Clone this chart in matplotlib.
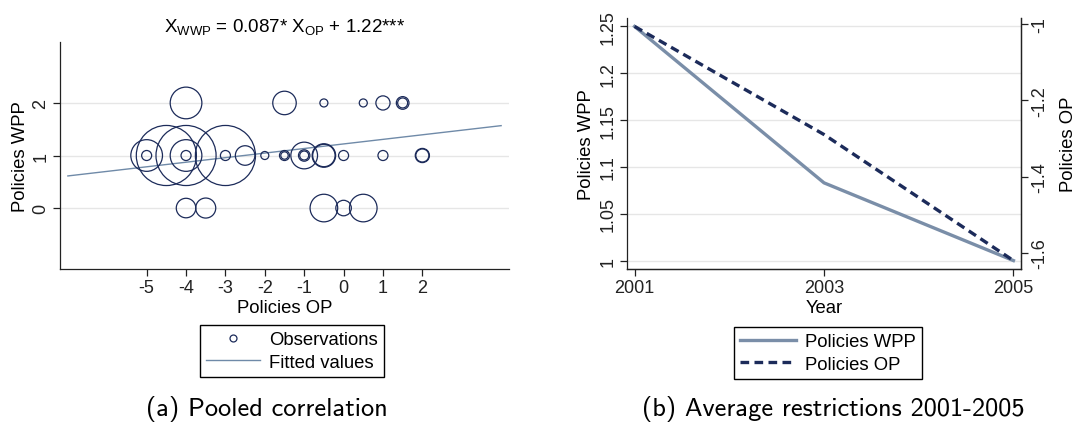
import matplotlib
matplotlib.use("Agg")
import matplotlib.pyplot as plt
from matplotlib.lines import Line2D
import numpy as np

plt.rcParams['font.family'] = ['Liberation Sans', 'DejaVu Sans']

# (a) pooled observations: OP policy score, WPP policy score, weight
obs_op = [-4, -1.5, -0.5, 0.5, 1, 1.5, 1.5,
          -5, -5, -4.5, -4, -4, -4, -3, -3, -2.5, -2, -1.5, -1.5,
          -1, -1, -1, -0.5, -0.5, 0, 1, 2, 2,
          -4, -3.5, -0.5, 0, 0.5]
obs_wpp = [2, 2, 2, 2, 2, 2, 2,
           1, 1, 1, 1, 1, 1, 1, 1, 1, 1, 1, 1,
           1, 1, 1, 1, 1, 1, 1, 1, 1,
           0, 0, 0, 0, 0]
obs_weight = [10, 5.5, 0.64, 0.64, 2, 1.6, 1.0,
              1, 10, 36, 1, 10, 36, 1, 36, 3.8, 0.64, 1, 0.55,
              1.3, 0.8, 7.1, 5.5, 5.0, 1, 1, 2, 1.7,
              3.8, 4, 7.6, 2.4, 7.6]
fit_slope = 0.087
fit_const = 1.22
fit_range = [-7, 4]

# (b) yearly averages
years = [2001, 2003, 2005]
avg_wpp = [1.25, 1.083, 1.0]
avg_op = [-1.007, -1.29, -1.62]

navy = '#1c2b5a'
steel = '#6f8aa8'
W, H = 1085, 439
FS = 13
LFS = 13.3

fig = plt.figure(figsize=(W / 100, H / 100), dpi=100)


def style_axes(ax):
    ax.spines['top'].set_visible(False)
    ax.tick_params(direction='out', length=5, width=0.9, pad=2.5, labelsize=FS,
                   colors='#222222')
    for s in ax.spines.values():
        s.set_linewidth(0.9)
        s.set_color('#222222')


# ---- panel (a)
ax1 = fig.add_axes([60 / W, 1 - 270 / H, 449 / W, 227 / H])
style_axes(ax1)
ax1.spines['right'].set_visible(False)
for yv in [0, 1, 2]:
    ax1.axhline(yv, color='#e6e6e6', lw=1.0, zorder=0)
sizes = np.array(obs_weight) * 52
ax1.scatter(obs_op, obs_wpp, s=sizes, facecolors='none', edgecolors=navy,
            linewidths=0.9, zorder=3)
xf = np.array(fit_range)
ax1.plot(xf, fit_slope * xf + fit_const, color=steel, lw=1.0, zorder=2)
ax1.set_xlim(-7.2, 4.2)
ax1.set_ylim(-1.16, 3.16)
ax1.set_xticks([-5, -4, -3, -2, -1, 0, 1, 2])
ax1.set_xticklabels(['-5', '-4', '-3', '-2', '-1', '0', '1', '2'])
ax1.set_yticks([0, 1, 2])
plt.setp(ax1.get_yticklabels(), rotation=90, va='center')
ax1.set_xlabel('Policies OP', fontsize=LFS)
ax1.set_ylabel('Policies WPP', fontsize=LFS)
ax1.xaxis.set_label_coords(0.5, -0.132)
ax1.yaxis.set_label_coords(-0.069, 0.5)
fig.text(284.5 / W, 1 - 28 / H,
         r'X$_{\mathregular{WWP}}$ = 0.087* X$_{\mathregular{OP}}$ + 1.22***',
         ha='center', va='center', fontsize=13.5)

h1 = [Line2D([], [], marker='o', ls='none', mfc='none', mec=navy, ms=5, mew=0.9),
      Line2D([], [], color=steel, lw=1.0)]
fig.legend(h1, ['Observations', 'Fitted values'], loc='center',
           bbox_to_anchor=(292 / W, 1 - 352 / H), fontsize=LFS, frameon=True,
           fancybox=False, edgecolor='black', framealpha=1, handlelength=2.9,
           borderpad=0.35, labelspacing=0.3, handletextpad=0.5)

# ---- panel (b)
ax2 = fig.add_axes([627 / W, 1 - 270 / H, 394 / W, 251 / H])
style_axes(ax2)
for yv in [1, 1.05, 1.1, 1.15, 1.2, 1.25]:
    ax2.axhline(yv, color='#e6e6e6', lw=1.0, zorder=0)
l1, = ax2.plot(years, avg_wpp, color='#7a8ea8', lw=2.4, zorder=3)
lo, hi = 0.991, 1.259
ax2.set_ylim(lo, hi)
ax2.set_xlim(2000.92, 2005.08)
ax2.set_xticks(years)
ax2.set_yticks([1, 1.05, 1.1, 1.15, 1.2, 1.25])
ax2.set_yticklabels(['1', '1.05', '1.1', '1.15', '1.2', '1.25'])
plt.setp(ax2.get_yticklabels(), rotation=90, va='center')
ax2.set_xlabel('Year', fontsize=LFS)
ax2.set_ylabel('Policies WPP', fontsize=LFS)
ax2.xaxis.set_label_coords(0.5, -0.12)
ax2.yaxis.set_label_coords(-0.08, 0.5)

ax3 = ax2.twinx()
style_axes(ax3)
ax3.spines['left'].set_visible(False)
k = (max(avg_op) - min(avg_op)) / (max(avg_wpp) - min(avg_wpp))
ax3.set_ylim(min(avg_op) + (lo - min(avg_wpp)) * k, max(avg_op) + (hi - max(avg_wpp)) * k)
l2, = ax3.plot(years, avg_op, color=navy, lw=2.4, ls=(0, (2.6, 1.6)), zorder=4)
ax3.set_yticks([-1.6, -1.4, -1.2, -1])
ax3.set_yticklabels(['-1.6', '-1.4', '-1.2', '-1'])
plt.setp(ax3.get_yticklabels(), rotation=90, va='center')
ax3.set_ylabel('Policies OP', fontsize=LFS, rotation=90)
ax3.yaxis.set_label_coords(1.098, 0.5)

fig.legend([l1, l2], ['Policies WPP', 'Policies OP'], loc='center',
           bbox_to_anchor=(828 / W, 1 - 354 / H), fontsize=LFS, frameon=True,
           fancybox=False, edgecolor='black', framealpha=1, handlelength=3.0,
           borderpad=0.35, labelspacing=0.3, handletextpad=0.5)

# captions
fig.text(267 / W, 1 - 409 / H, '(a) Pooled correlation', ha='center', va='center',
         fontsize=19, family='cmss10')
fig.text(833 / W, 1 - 409 / H, '(b) Average restrictions 2001-2005', ha='center',
         va='center', fontsize=19, family='cmss10')

fig.savefig('out.png', dpi=100)
